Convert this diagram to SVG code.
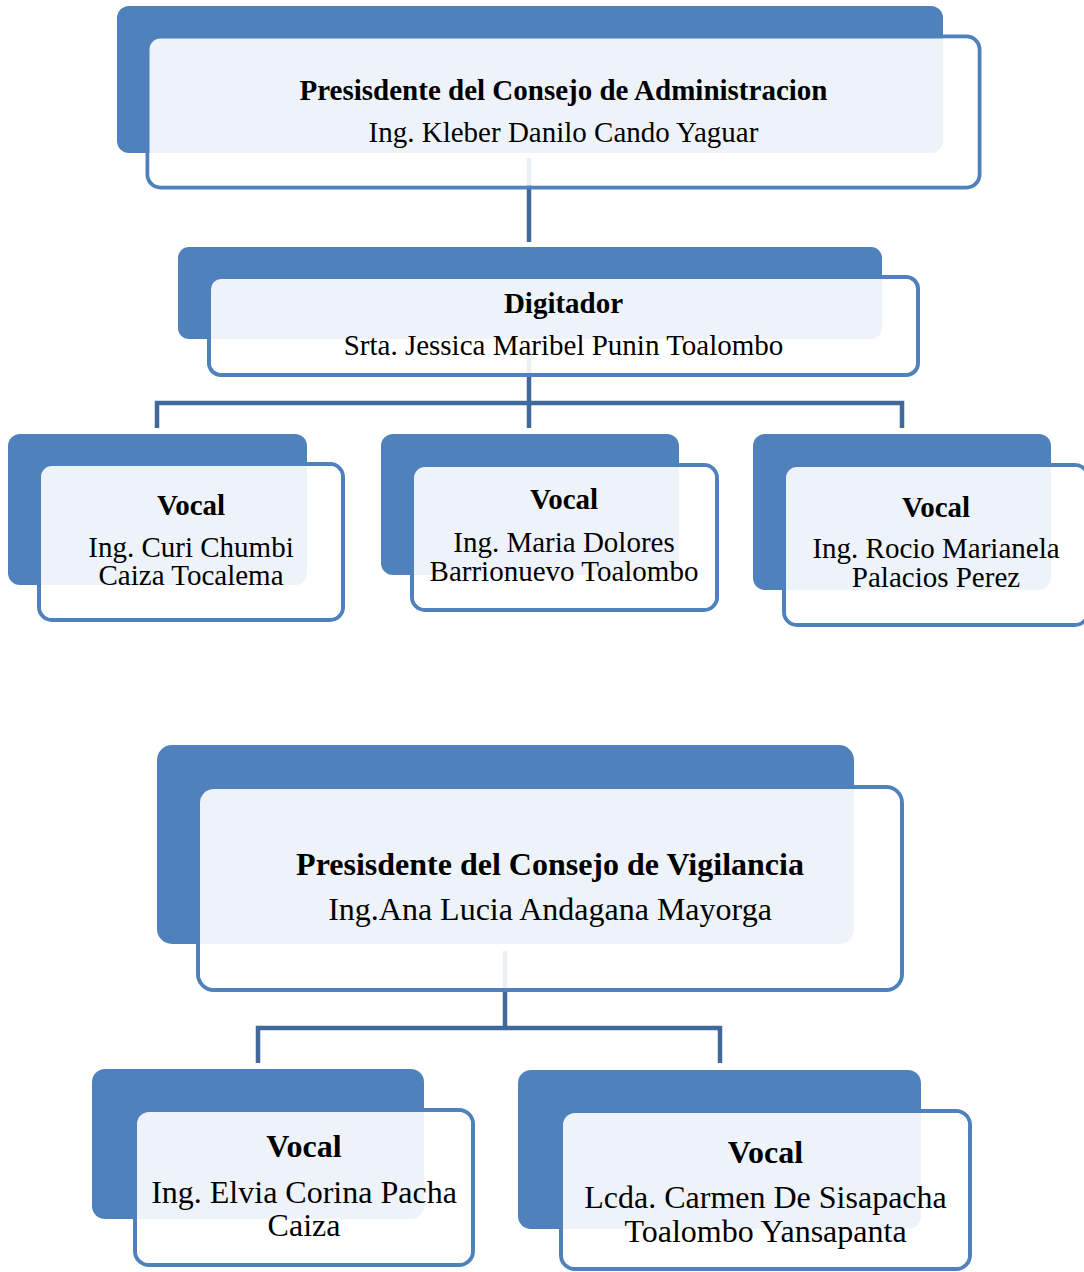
<svg xmlns="http://www.w3.org/2000/svg" width="1084" height="1272" viewBox="0 0 1084 1272">
  <style>
    .back { fill: #4F81BD; }
    .frame { fill: none; stroke: #4F81BD; stroke-width: 4; }
    .veil { fill: #FFFFFF; fill-opacity: 0.9; }
    .link { fill: none; stroke: #41689B; stroke-width: 4.5; stroke-linejoin: miter; }
    text { font-family: "Liberation Serif", "Times New Roman", serif; fill: #000000; text-anchor: middle; }
    .t { font-weight: bold; }
    .s29 { font-size: 29px; }
    .s32 { font-size: 32px; }
  </style>

  <!-- connectors sit under the cards so the translucent card faces tint them -->
  <g id="connectors">
    <path class="link" d="M529,158 V242"/>
    <path class="link" d="M529,347 V428"/>
    <path class="link" d="M157,428 V403 H902 V428"/>
    <path class="link" d="M505,951 V1028"/>
    <path class="link" d="M258,1063 V1028 H720 V1063"/>
  </g>

  <!-- Consejo de Administracion -->
  <g id="presidente-administracion">
    <rect class="frame" x="147.5" y="36.5" width="832" height="151" rx="13"/>
    <rect class="back" x="117" y="6" width="826" height="147" rx="12"/>
    <rect class="veil" x="149.5" y="38.5" width="828" height="147" rx="11"/>
    <text class="t s29" x="563.5" y="100">Presisdente del Consejo de Administracion</text>
    <text class="s29" x="563.5" y="142">Ing. Kleber Danilo Cando Yaguar</text>
  </g>

  <g id="digitador">
    <rect class="frame" x="209" y="277" width="709" height="98" rx="12"/>
    <rect class="back" x="178" y="247" width="704" height="92" rx="11"/>
    <rect class="veil" x="211" y="279" width="705" height="94" rx="10"/>
    <text class="t s29" x="563.5" y="313">Digitador</text>
    <text class="s29" x="563.5" y="355">Srta. Jessica Maribel Punin Toalombo</text>
  </g>

  <g id="vocal-1">
    <rect class="frame" x="39" y="464" width="304" height="156" rx="13"/>
    <rect class="back" x="8" y="434" width="299" height="151" rx="12"/>
    <rect class="veil" x="41" y="466" width="300" height="152" rx="11"/>
    <text class="t s29" x="191" y="515">Vocal</text>
    <text class="s29" x="191" y="557">Ing. Curi Chumbi</text>
    <text class="s29" x="191" y="585">Caiza Tocalema</text>
  </g>

  <g id="vocal-2">
    <rect class="frame" x="412" y="465" width="305" height="145" rx="13"/>
    <rect class="back" x="381" y="434" width="298" height="141" rx="12"/>
    <rect class="veil" x="414" y="467" width="301" height="141" rx="11"/>
    <text class="t s29" x="564" y="509">Vocal</text>
    <text class="s29" x="564" y="552">Ing. Maria Dolores</text>
    <text class="s29" x="564" y="581">Barrionuevo Toalombo</text>
  </g>

  <g id="vocal-3">
    <rect class="frame" x="784" y="465" width="304" height="160" rx="13"/>
    <rect class="back" x="753" y="434" width="298" height="156" rx="12"/>
    <rect class="veil" x="786" y="467" width="300" height="156" rx="11"/>
    <text class="t s29" x="936" y="517">Vocal</text>
    <text class="s29" x="936" y="558">Ing. Rocio Marianela</text>
    <text class="s29" x="936" y="587">Palacios Perez</text>
  </g>

  <!-- Consejo de Vigilancia -->
  <g id="presidente-vigilancia">
    <rect class="frame" x="198" y="787" width="704" height="203" rx="16"/>
    <rect class="back" x="157" y="745" width="697" height="199" rx="15"/>
    <rect class="veil" x="200" y="789" width="700" height="199" rx="14"/>
    <text class="t s32" x="550" y="875">Presisdente del Consejo de Vigilancia</text>
    <text class="s32" x="550" y="920">Ing.Ana Lucia Andagana Mayorga</text>
  </g>

  <g id="vocal-4">
    <rect class="frame" x="135" y="1110" width="338" height="155" rx="14"/>
    <rect class="back" x="92" y="1069" width="332" height="150" rx="13"/>
    <rect class="veil" x="137" y="1112" width="334" height="151" rx="12"/>
    <text class="t s32" x="304" y="1157">Vocal</text>
    <text class="s32" x="304" y="1203">Ing. Elvia Corina Pacha</text>
    <text class="s32" x="304" y="1236">Caiza</text>
  </g>

  <g id="vocal-5">
    <rect class="frame" x="561" y="1111" width="409" height="158" rx="14"/>
    <rect class="back" x="518" y="1070" width="403" height="159" rx="13"/>
    <rect class="veil" x="563" y="1113" width="405" height="154" rx="12"/>
    <text class="t s32" x="765.5" y="1163">Vocal</text>
    <text class="s32" x="765.5" y="1208">Lcda. Carmen De Sisapacha</text>
    <text class="s32" x="765.5" y="1242">Toalombo Yansapanta</text>
  </g>
</svg>
